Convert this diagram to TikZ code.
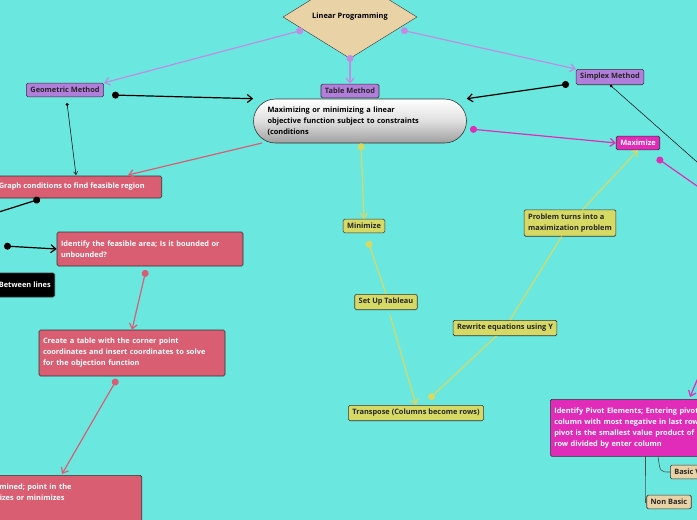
\documentclass[tikz,border=0pt]{standalone}
\usepackage{fontspec}
\setmainfont{Open Sans}
\usetikzlibrary{shapes,arrows,positioning,arrows.meta}
\usepackage{xcolor}
\definecolor{bgcyan}{RGB}{106,232,224}
\definecolor{lav}{RGB}{178,126,220}
\definecolor{lavline}{RGB}{192,140,228}
\definecolor{rose}{RGB}{217,94,114}
\definecolor{lime}{RGB}{214,218,100}
\definecolor{magen}{RGB}{224,44,184}
\definecolor{tan}{RGB}{232,210,166}

\begin{document}
\begin{tikzpicture}[x=1pt,y=-1pt,font=\fontsize{7.4}{11}\selectfont\bfseries]
      \tikzstyle{box} = [rectangle, rounded corners=1.5pt, draw=black!80, line width=0.6pt, inner sep=4pt, align=left]
      \tikzstyle{method} = [box, fill=lav, text=black!85]
      \tikzstyle{stage} = [box, fill=rose, text=white]
      \tikzstyle{simp} = [box, fill=lime, text=black!85]
      \tikzstyle{maxi} = [box, fill=magen, text=white]
      \tikzstyle{var} = [box, fill=tan, text=black!85]
      \tikzstyle{link} = [-{Straight Barb[length=5pt,width=8pt]}, line width=1.2pt]
      \tikzstyle{dotlink} = [{Circle[length=7pt]}-{Straight Barb[length=5pt,width=8pt]}, line width=1.2pt]

      \fill[bgcyan] (0,0) rectangle (697,520);
      \useasboundingbox (0,0) rectangle (697,520);

      \node[diamond, draw=black!80, fill=tan, minimum width=134pt, minimum height=72pt, inner sep=0pt] (lp) at (350,17) {Linear Programming};

      \node[method] (geo) at (65,90) {Geometric Method};
      \node[method] (tab) at (350,91) {Table Method};
      \node[method] (spx) at (610,77) {Simplex Method};

      \node[rectangle, rounded corners=22pt, draw=black!80, line width=0.6pt, top color=white, bottom color=gray!75, middle color=gray!25, minimum width=213pt, minimum height=44pt, text width=185pt, align=left] (goal) at (360,121) {Maximizing or minimizing a linear\\objective function subject to constraints\\(conditions};

      \node[maxi] (max) at (638,143) {Maximize};

      \node[stage, anchor=east, minimum width=180pt, minimum height=22pt] (graph) at (162,187) {Graph conditions to find feasible region};
      \node[stage, text width=178pt, minimum height=34pt] (feas) at (150,249) {Identify the feasible area; Is it bounded or\\unbounded?};
      \node[box, fill=black, text=white, minimum height=24pt, anchor=east] (betw) at (55,285) {Between lines};
      \node[stage, text width=178pt, minimum height=46pt] (corner) at (132,353) {Create a table with the corner point\\coordinates and insert coordinates to solve\\for the objection function};
      \node[stage, text width=232pt, minimum height=46pt, anchor=north east] (opt) at (142,475) {Optimal solution is determined; point in the\\feasible area that maximizes or minimizes\\the objective function};
      \coordinate (offa) at (-20,218);
      \node[stage, minimum height=12pt] (offb) at (-20,246) {};

      \node[simp] (min) at (364,226) {Minimize};
      \node[simp] (setup) at (386,302) {Set Up Tableau};
      \node[simp] (trans) at (416,413) {Transpose (Columns become rows)};
      \node[simp] (turn) at (570,223) {Problem turns into a\\maximization problem};
      \node[simp] (rewr) at (505,328) {Rewrite equations using Y};

      \node[maxi, text width=210pt, minimum height=57pt, anchor=north west] (pivot) at (550,399) {Identify Pivot Elements; Entering pivot\\column with most negative in last row;\\pivot is the smallest value product of\\row divided by enter column};
      \node[var, anchor=west] (basic) at (670,472) {Basic Variables};
      \node[var] (nonb) at (669,502) {Non Basic};
      \coordinate (offc) at (760,230);
      \coordinate (offd) at (740,200);

      \draw[dotlink, lavline] (303,30) -- (geo.north east);
      \draw[dotlink, lavline] (350,55) -- (tab.north);
      \draw[dotlink, lavline] (401,30) -- (spx.north west);
      \draw[dotlink, black] (112,95) -- (goal.north west);
      \draw[dotlink, black] (569,84) -- (goal.north east);
      \draw[{Circle[length=3pt]}-, black, line width=0.5pt] (spx.south) -- (offd);
      \draw[dotlink, magen] (470,129) -- (max.west);
      \draw[link, rose] (262,143) -- (128,175);
      \draw[dotlink, lime] (goal.south) ++(1,0) -- (min.north);
      \draw[{Circle[length=3pt]}-{Straight Barb[length=3pt,width=4pt]}, black, line width=0.5pt] (67,103) -- (76,175);
      \draw[{Circle[length=7pt]}-, black, line width=1.2pt] (40,199) -- (offa);
      \draw[dotlink, black] (4,246) -- (feas.west);
      \draw[dotlink, rose] (146,270) -- (corner.north);
      \draw[dotlink, rose] (117,379) -- (62,474);
      \draw[{Circle[length=7pt]}-, lime, line width=1.2pt] (368,241) -- (setup.north);
      \draw[link, lime] (390,315) -- (trans.north);
      \draw[{Circle[length=7pt]}-, lime, line width=1.2pt] (429,399) -- (rewr);
      \draw[lime, line width=1.2pt] (rewr) -- (turn);
      \draw[link, lime] (turn) -- (max.south);
      \draw[{Circle[length=7pt]}-, magen, line width=1.2pt] (657,158) -- (offc);
      \draw[link, magen] (offc) -- (690,397);
      \draw[black!70, line width=0.6pt] (645,456) -- (645,495) |- (nonb.west);
      \draw[black!70, line width=0.6pt] (658,456) .. controls (660,472) .. (basic.west);
    \end{tikzpicture}
\end{document}
